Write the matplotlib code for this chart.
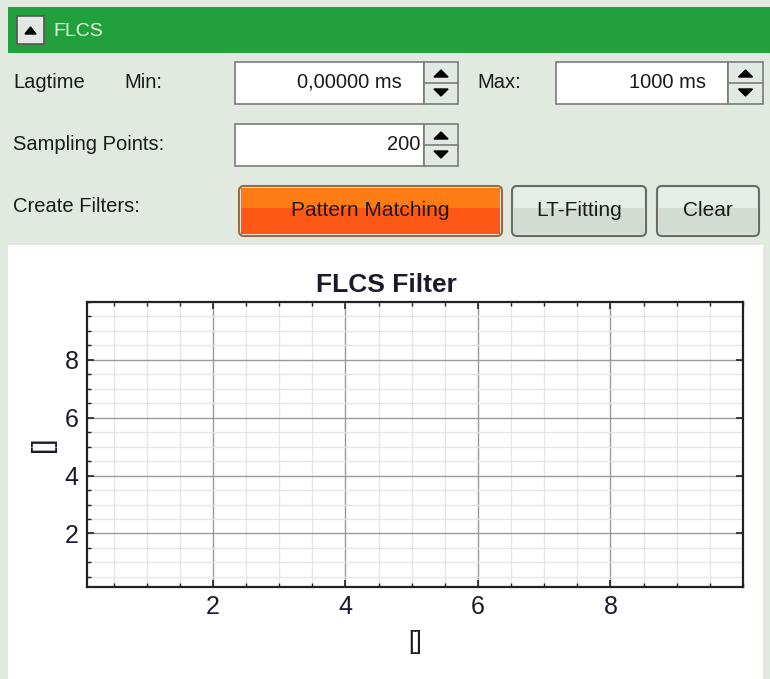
import matplotlib.pyplot as plt
from matplotlib.patches import Rectangle, FancyBboxPatch, Polygon
from matplotlib.ticker import MultipleLocator

# Panel values
lagtime_min = "0,00000 ms"
lagtime_max = "1000 ms"
sampling_points = "200"
filter_buttons = ["Pattern Matching", "LT-Fitting", "Clear"]

# Chart axes (empty filter plot)
x_limits = [0.1, 10.0]
y_limits = [0.15, 10.0]
x_major = [2, 4, 6, 8]
y_major = [2, 4, 6, 8]
minor_step = 0.5

W, H = 770, 679
BG = "#e1e9e1"
GREEN = "#21a03c"
FONT = "Liberation Sans"

fig = plt.figure(figsize=(W / 100, H / 100), dpi=100)
fig.patch.set_facecolor(BG)

# overlay in pixel coordinates for the GUI widgets
ui = fig.add_axes([0, 0, 1, 1])
ui.set_xlim(0, W)
ui.set_ylim(H, 0)
ui.axis("off")


def rect(x0, y0, x1, y1, fc, ec="none", lw=1.0, z=1):
    ui.add_patch(Rectangle((x0, y0), x1 - x0, y1 - y0, facecolor=fc,
                           edgecolor=ec, linewidth=lw, zorder=z))


def label(x, y, s, ha="left", color="#1a1a1a", size=14.5, **kw):
    ui.text(x, y, s, ha=ha, va="center", color=color, fontsize=size,
            family=FONT, zorder=5, **kw)


def spinner(x0, y0, x1, y1):
    rect(x0, y0, x1, y1, "#e2e8e2", "#7a7a7a", 1.2, 2)
    ym = (y0 + y1) / 2
    ui.plot([x0, x1], [ym, ym], color="#7a7a7a", lw=1.2, zorder=3)
    cx = (x0 + x1) / 2
    ui.add_patch(Polygon([[cx - 7, ym - 6], [cx + 7, ym - 6], [cx, ym - 13]],
                         closed=True, color="black", zorder=4))
    ui.add_patch(Polygon([[cx - 7, ym + 6], [cx + 7, ym + 6], [cx, ym + 13]],
                         closed=True, color="black", zorder=4))


def button(x0, y0, x1, y1, top, bottom, edge, text):
    ym = (y0 + y1) / 2 - 3
    rect(x0 + 2, y0 + 2, x1 - 2, ym, top, z=2)
    rect(x0 + 2, ym, x1 - 2, y1 - 2, bottom, z=2)
    ui.add_patch(FancyBboxPatch((x0, y0), x1 - x0, y1 - y0,
                                boxstyle="round,pad=0,rounding_size=5",
                                facecolor="none", edgecolor=edge,
                                linewidth=1.5, zorder=3))
    label((x0 + x1) / 2, (y0 + y1) / 2, text, ha="center", size=15)


# header bar
rect(8, 7, W, 53, GREEN)
rect(17, 16, 44, 44, "#e4e8e4", "#555555", 1.2, 2)
ui.add_patch(Polygon([[25, 34], [36, 34], [30.5, 27]], closed=True,
                     color="black", zorder=3))
label(53, 31, "FLCS", color="#e8f5e0", size=14)

# lagtime row
label(13, 82, "Lagtime")
label(124, 82, "Min:")
rect(235, 62, 424, 104, "white", "#7a7a7a", 1.2, 2)
label(402, 82, lagtime_min, ha="right")
spinner(424, 62, 458, 104)
label(477, 82, "Max:")
rect(556, 62, 728, 104, "white", "#7a7a7a", 1.2, 2)
label(706, 82, lagtime_max, ha="right")
spinner(728, 62, 763, 104)

# sampling row
label(13, 144, "Sampling Points:")
rect(235, 124, 424, 166, "white", "#7a7a7a", 1.2, 2)
label(420, 144, sampling_points, ha="right")
spinner(424, 124, 458, 166)

# filter buttons
label(13, 207, "Create Filters:")
button(239, 186, 502, 236, "#ff7b14", "#ff5716", "#9a6a40", filter_buttons[0])
button(512, 186, 646, 236, "#e6ece6", "#d3dcd3", "#6a6a6a", filter_buttons[1])
button(657, 186, 759, 236, "#e6ece6", "#d3dcd3", "#6a6a6a", filter_buttons[2])

# white plot area
rect(8, 245, 763, H, "white")

# the chart itself
ax = fig.add_axes([87 / W, 1 - 587 / H, (743 - 87) / W, (587 - 302) / H])
ax.set_facecolor("white")
ax.set_xlim(x_limits)
ax.set_ylim(y_limits)
ax.set_xticks(x_major)
ax.set_yticks(y_major)
ax.xaxis.set_minor_locator(MultipleLocator(minor_step))
ax.yaxis.set_minor_locator(MultipleLocator(minor_step))
ax.grid(True, which="major", color="#9a9a9a", linewidth=1.0)
ax.grid(True, which="minor", color="#e6e6e6", linewidth=1.0)
ax.set_axisbelow(True)
ax.tick_params(which="both", direction="in", top=True, right=True,
               labelsize=18, colors="#222222", labelcolor="#1a1a2a", pad=6)
ax.tick_params(which="major", length=5, width=1.2)
ax.tick_params(which="minor", length=3, width=1.0)
ax.tick_params(axis="y", which="minor", right=False)
for sp in ax.spines.values():
    sp.set_linewidth(1.6)
    sp.set_color("#222222")
for lbl in ax.get_xticklabels() + ax.get_yticklabels():
    lbl.set_family(FONT)

ax.set_title("FLCS Filter", fontsize=19, fontweight="bold", family=FONT,
             color="#1a1a2a", pad=7, x=(386 - 87) / (743 - 87))
ax.set_xlabel("[]", fontsize=18, family=FONT, color="#1a1a2a", labelpad=8)
ax.set_ylabel("[]", fontsize=20, family=FONT, color="#1a1a2a", labelpad=6)

fig.savefig("out.png", dpi=100, facecolor=fig.get_facecolor())
